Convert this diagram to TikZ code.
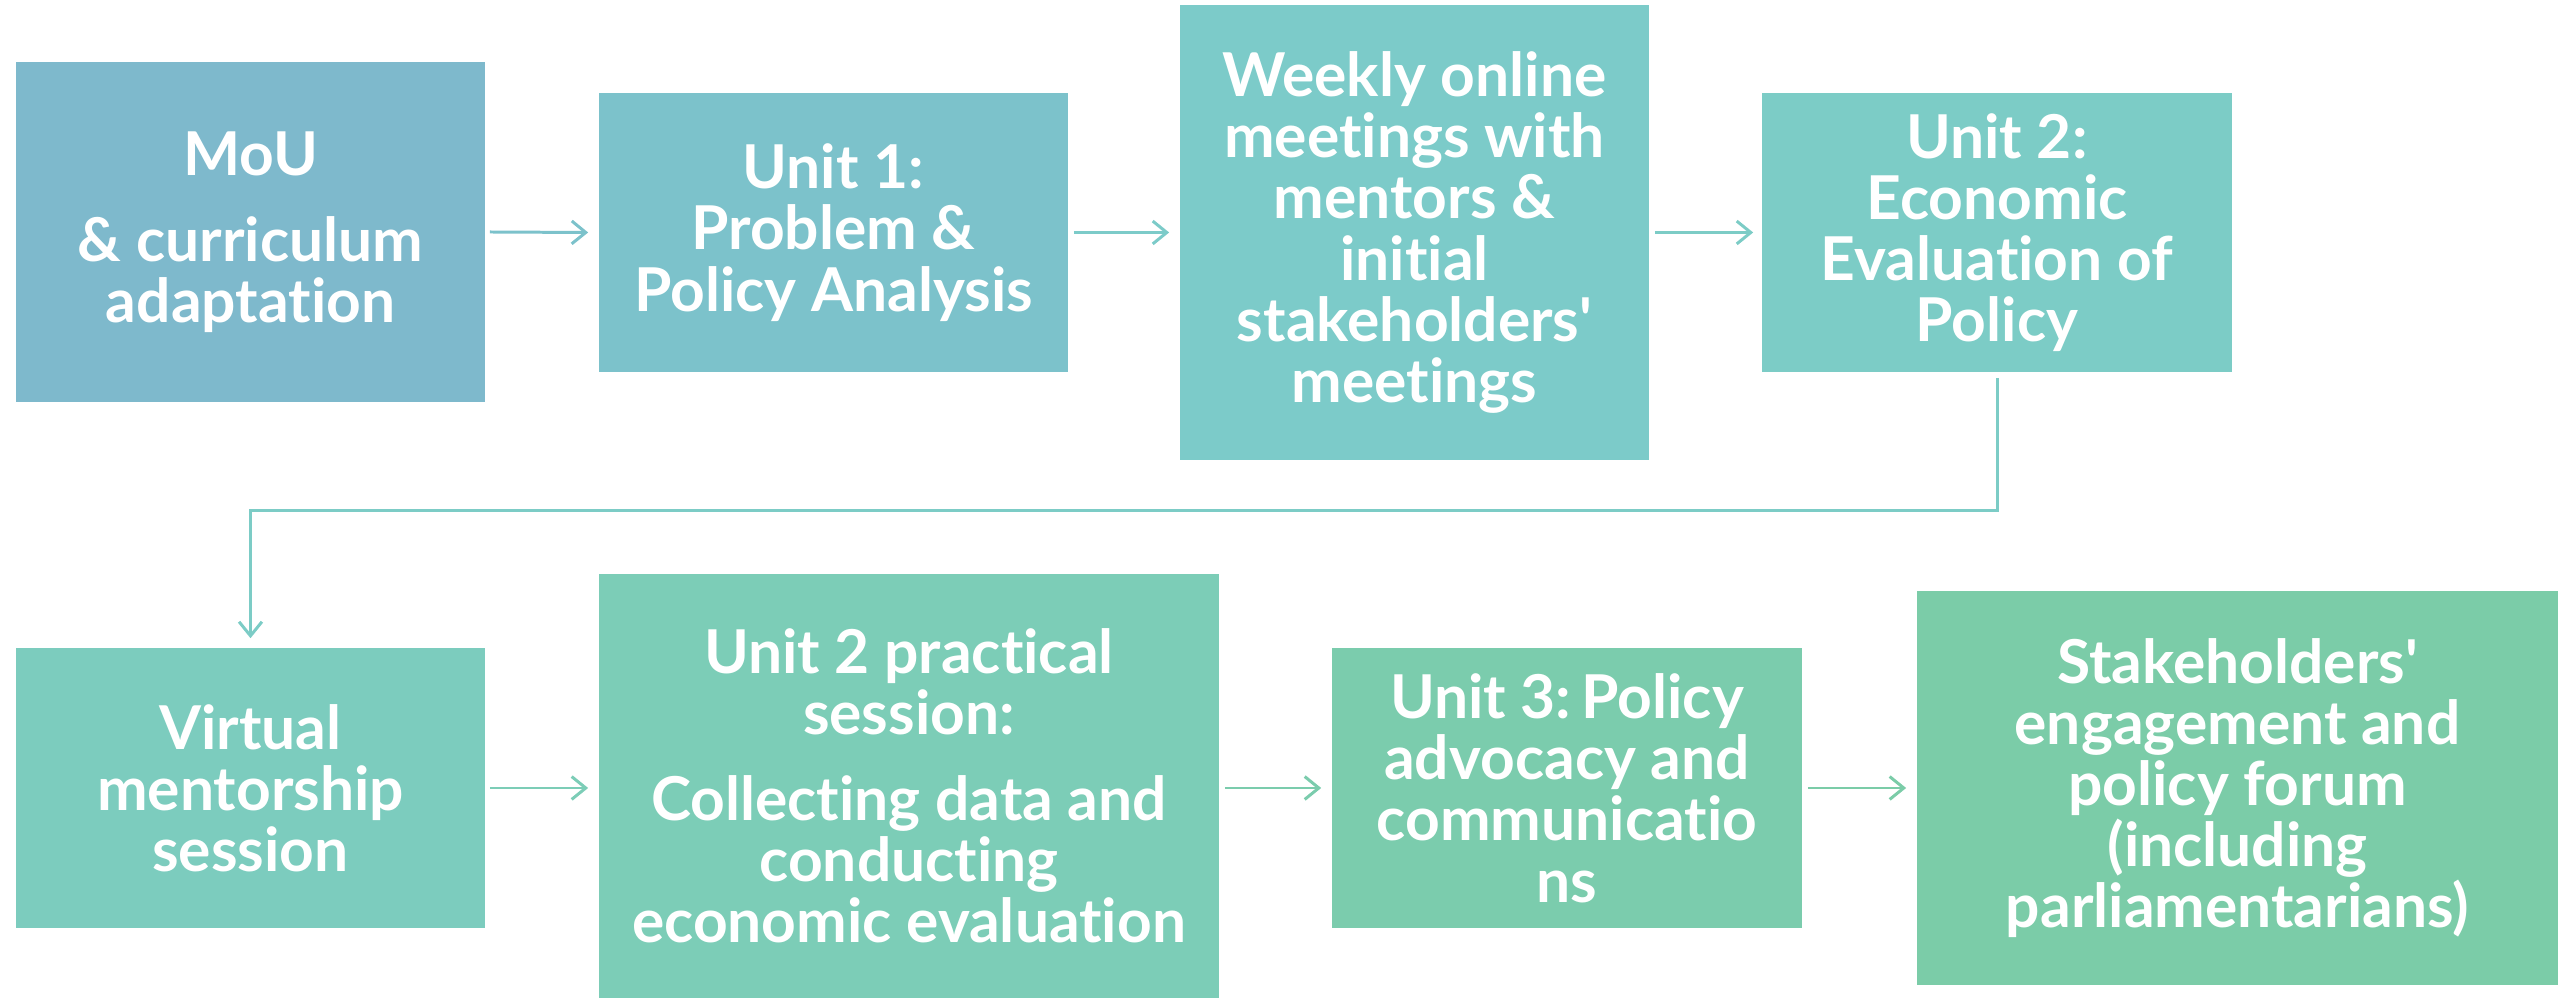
\documentclass[tikz,border=0pt]{standalone}
\usepackage{fontspec}
\setmainfont{Lato}[Ligatures={TeX,NoCommon}]
\usetikzlibrary{arrows.meta}
\definecolor{c1}{HTML}{7EB9CC}
\definecolor{c2}{HTML}{7CC2CB}
\definecolor{c3}{HTML}{7CCBC9}
\definecolor{c4}{HTML}{7CCCC6}
\definecolor{c5}{HTML}{7CCCBE}
\definecolor{c6}{HTML}{7CCDB7}
\definecolor{c7}{HTML}{7BCCAD}
\definecolor{c8}{HTML}{7BCCA8}
\begin{document}
\begin{tikzpicture}[x=0.01cm,y=-0.01cm,
  box/.style={fill=#1, text=white, align=center, inner sep=0pt,
    font=\fontsize{17.2}{17.4}\selectfont\bfseries},
  conn/.style={draw=#1, line width=0.85pt,
    -{Straight Barb[length=4pt,width=6.5pt,line width=0.85pt]}}]
\useasboundingbox (0,0) rectangle (2560,998);
\node[box=c1, minimum width=4.69cm, minimum height=3.40cm] (n1) at (250.5,232)
  {MoU\\[7pt]\& curriculum\\adaptat\kern0pt ion};
\node[box=c2, minimum width=4.69cm, minimum height=2.79cm] (n2) at (833.5,232.5)
  {Unit 1:\\Problem \&\\Policy Analysis};
\node[box=c3, minimum width=4.69cm, minimum height=4.55cm] (n3) at (1414.5,232.5)
  {Weekly online\\meetings with\\mentors \&\\init\kern0pt ial\\stakeholders\textquotesingle\\meetings};
\node[box=c4, minimum width=4.70cm, minimum height=2.79cm] (n4) at (1997,232.5)
  {Unit 2:\\Economic\\Evaluat\kern0pt ion of\\Policy};
\node[box=c5, minimum width=4.69cm, minimum height=2.80cm] (n5) at (250.5,788)
  {Virtual\\mentorship\\session};
\node[box=c6, minimum width=6.20cm, minimum height=4.24cm] (n6) at (909,786)
  {Unit 2 pract\kern0pt ical\\session:\\[7pt]Collect\kern0pt ing data and\\conduct\kern0pt ing\\economic evaluat\kern0pt ion};
\node[box=c7, minimum width=4.70cm, minimum height=2.80cm] (n7) at (1567,788)
  {Unit 3:\,Policy\\advocacy and\\communicat\kern0pt io\\ns};
\node[box=c8, minimum width=6.41cm, minimum height=3.94cm] (n8) at (2237.5,788)
  {Stakeholders\textquotesingle\\engagement and\\policy forum\\(including\\parliamentarians)};
\draw[conn=c2] ([xshift=0.04cm]n1.east) -- ([xshift=-0.1cm]n2.west);
\draw[conn=c3] ([xshift=0.05cm]n2.east) -- ([xshift=-0.1cm]n3.west);
\draw[conn=c4] ([xshift=0.05cm]n3.east) -- ([xshift=-0.08cm]n4.west);
\draw[conn=c4] ([yshift=-0.05cm]n4.south) -- ++(0,133) -| ([yshift=0.09cm]n5.north);
\draw[conn=c6] ([xshift=0.04cm]n5.east) -- ([xshift=-0.1cm]n6.west |- n5.east);
\draw[conn=c7] ([xshift=0.05cm]n6.east |- n7.west) -- ([xshift=-0.1cm]n7.west);
\draw[conn=c8] ([xshift=0.05cm]n7.east) -- ([xshift=-0.1cm]n8.west);
\end{tikzpicture}
\end{document}
